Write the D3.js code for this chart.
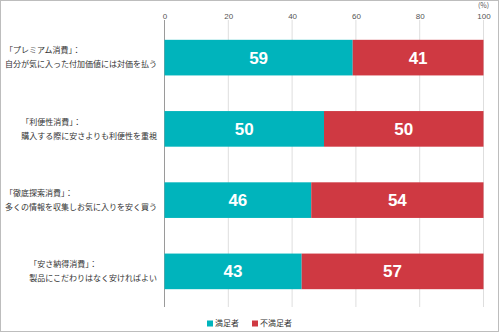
<!DOCTYPE html>
<html>
<head>
<meta charset="utf-8">
<script src="https://cdn.jsdelivr.net/npm/d3@7/dist/d3.min.js"></script>
<style>
  html, body { margin: 0; padding: 0; background: #fff; }
  svg { display: block; font-family: "Noto Sans CJK JP", "Liberation Sans", sans-serif; }
</style>
</head>
<body>
<svg id="chart" width="500" height="333"></svg>
<script>
// Consumption styles: label title + description
const titles = ["「プレミアム消費」：", "「利便性消費」：", "「徹底探索消費」：", "「安さ納得消費」："];
const descriptions = [
  "自分が気に入った付加価値には対価を払う",
  "購入する際に安さよりも利便性を重視",
  "多くの情報を収集しお気に入りを安く買う",
  "製品にこだわりはなく安ければよい"
];
const satisfied = [59, 50, 46, 43];
const unsatisfied = [41, 50, 54, 57];
const seriesNames = ["満足者", "不満足者"];
const tickValues = [0, 20, 40, 60, 80, 100];

const colors = ["#00b4bc", "#cf3942"];

const svg = d3.select("#chart");
const W = 500, H = 333;

// outer frame
svg.append("rect")
  .attr("x", 0.5).attr("y", 0.5).attr("width", W - 2).attr("height", H - 2)
  .attr("fill", "#fff").attr("stroke", "#bdbdbd").attr("stroke-width", 1);

const x = d3.scaleLinear().domain([0, 100]).range([164.5, 483.5]);
const y = d3.scaleBand().domain(d3.range(titles.length)).range([22, 307])
  .paddingInner(0.5).paddingOuter(0.25);

// gridlines + ticks
const axis = d3.axisTop(x).tickValues(tickValues).tickSize(0).tickPadding(0);
const gAxis = svg.append("g").attr("transform", "translate(0,19)").call(axis);
gAxis.select(".domain").remove();
gAxis.selectAll("text")
  .attr("y", 0).attr("dy", 0)
  .attr("fill", "#555").style("font-size", "8px")
  .style("font-family", "'Liberation Sans', sans-serif");

svg.append("g").selectAll("line").data(tickValues).join("line")
  .attr("x1", d => x(d)).attr("x2", d => x(d))
  .attr("y1", 20).attr("y2", 307)
  .attr("stroke", d => d === 0 ? "#9a9a9a" : "#dedede")
  .attr("stroke-width", 1);

svg.append("text")
  .attr("x", x(100)).attr("y", 8)
  .attr("text-anchor", "middle")
  .attr("fill", "#555").style("font-size", "7px")
  .text("(%)");

// stacked bars
const stacked = satisfied.map((s, i) => [[0, s], [s, s + unsatisfied[i]]]);
stacked.forEach((segs, i) => {
  segs.forEach((seg, j) => {
    svg.append("rect")
      .attr("x", x(seg[0])).attr("y", y(i))
      .attr("width", x(seg[1]) - x(seg[0])).attr("height", y.bandwidth())
      .attr("fill", colors[j]);
    svg.append("text")
      .attr("x", (x(seg[0]) + x(seg[1])) / 2)
      .attr("y", y(i) + y.bandwidth() / 2)
      .attr("dy", "0.36em")
      .attr("text-anchor", "middle")
      .attr("fill", "#fff")
      .style("font-family", "'Liberation Sans', Arial, sans-serif")
      .style("font-weight", "bold").style("font-size", "17px")
      .text(j === 0 ? satisfied[i] : unsatisfied[i]);
  });
});

// category labels: block right-aligned, lines left-aligned
titles.forEach((t, i) => {
  const cy = y(i) + y.bandwidth() / 2;
  const g = svg.append("g");
  const l2 = g.append("text")
    .attr("x", 157).attr("y", cy + 7).attr("dy", "0.35em")
    .attr("text-anchor", "end")
    .attr("fill", "#333").style("font-size", "8px")
    .text(descriptions[i]);
  const w = l2.node().getComputedTextLength();
  g.append("text")
    .attr("x", 157 - w).attr("y", cy - 7).attr("dy", "0.35em")
    .attr("fill", "#333").style("font-size", "8px")
    .text(t);
});

// legend
const legendX = [207, 252];
seriesNames.forEach((name, j) => {
  svg.append("rect")
    .attr("x", legendX[j]).attr("y", 320.5).attr("width", 6).attr("height", 6)
    .attr("fill", colors[j]);
  svg.append("text")
    .attr("x", legendX[j] + 8).attr("y", 323.5).attr("dy", "0.35em")
    .attr("fill", "#333").style("font-size", "8px")
    .text(name);
});
</script>
</body>
</html>
